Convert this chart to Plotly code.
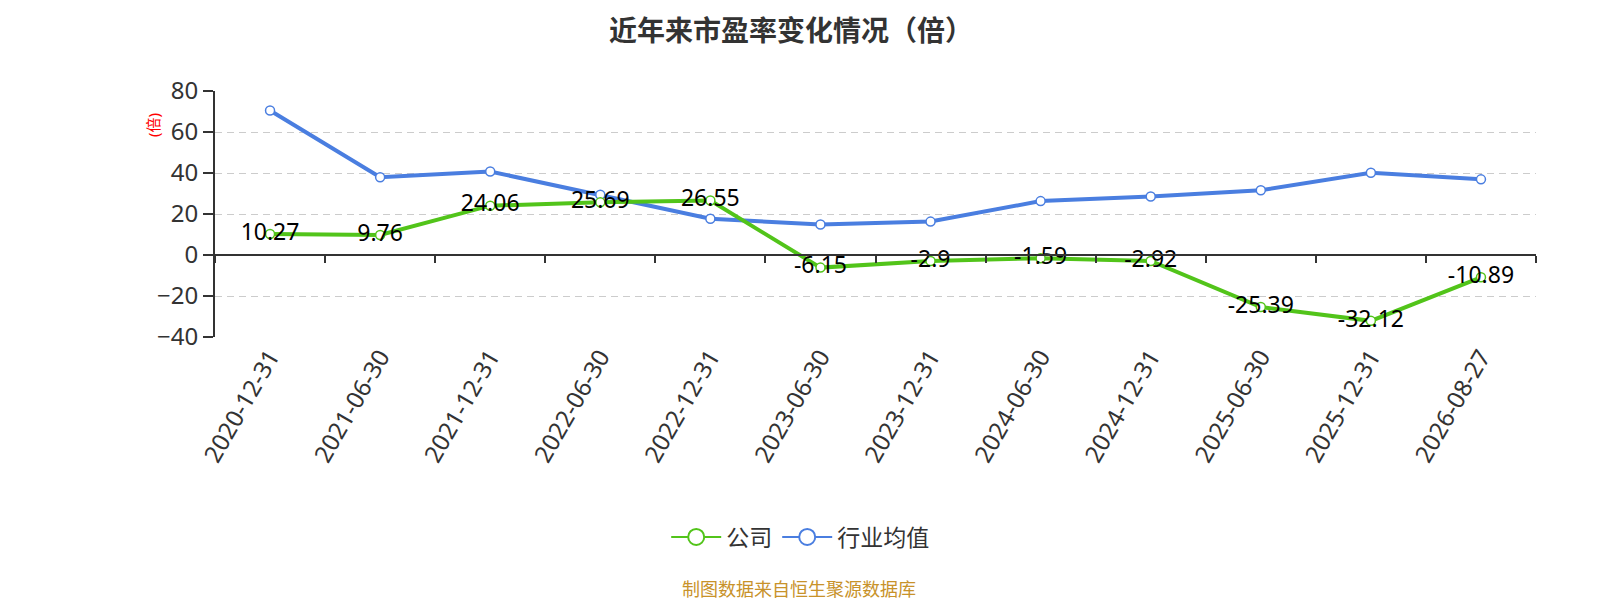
import plotly.graph_objects as go

# 报告期
dates = [
    "2020-12-31", "2021-06-30", "2021-12-31", "2022-06-30",
    "2022-12-31", "2023-06-30", "2023-12-31", "2024-06-30",
    "2024-12-31", "2025-06-30", "2025-12-31", "2026-08-27",
]
# 公司市盈率
company_pe = [10.27, 9.76, 24.06, 25.69, 26.55, -6.15, -2.9, -1.59, -2.92, -25.39, -32.12, -10.89]
# 行业均值（图上估读）
industry_pe = [70.5, 37.9, 40.7, 29.4, 17.7, 14.9, 16.3, 26.3, 28.5, 31.6, 40.1, 36.9]
y_ticks = [-40, -20, 0, 20, 40, 60, 80]

GREEN = "#52c41a"
BLUE = "#4a7ee0"
FONT = "Noto Sans, Noto Sans CJK SC"
cat_range = [-0.5, len(dates) - 0.5]

# the page body has an 8px default margin, so the figure is 8px smaller
W, H = 1592, 592

fig = go.Figure()

# 行业均值 on the main x axis (drawn first, underneath)
fig.add_trace(go.Scatter(
    x=dates, y=industry_pe, name="行业均值", mode="lines+markers",
    line=dict(color=BLUE, width=4),
    marker=dict(symbol="circle", size=9, color="white", line=dict(color=BLUE, width=1.5)),
    showlegend=False, xaxis="x", yaxis="y",
))

# 公司 on the overlay axis so its labels sit on top
fig.add_trace(go.Scatter(
    x=dates, y=company_pe, name="公司", mode="lines+markers+text",
    line=dict(color=GREEN, width=4),
    marker=dict(symbol="circle", size=9, color="white", line=dict(color=GREEN, width=1.5)),
    text=[f"{v:g}" for v in company_pe], textposition="middle center",
    textfont=dict(family=FONT, size=23, color="#000"),
    showlegend=False, xaxis="x2", yaxis="y",
))

# legend-only entries (thin line, big hollow circle)
for name, color in [("公司", GREEN), ("行业均值", BLUE)]:
    fig.add_trace(go.Scatter(
        x=[None], y=[None], name=name, mode="lines+markers",
        line=dict(color=color, width=2),
        marker=dict(symbol="circle", size=16, color="white", line=dict(color=color, width=2)),
        xaxis="x", yaxis="y", hoverinfo="skip",
    ))

fig.update_layout(
    width=W, height=H,
    margin=dict(l=207, r=64, t=83, b=263),
    paper_bgcolor="white", plot_bgcolor="white",
    font=dict(family=FONT, color="#333"),
    title=dict(text="<b>近年来市盈率变化情况（倍）</b>", x=0.4918, xanchor="center",
               y=0.96, yanchor="middle",
               font=dict(family="Noto Sans CJK SC", size=28, color="#333")),
    showlegend=True,
    legend=dict(orientation="h", x=0.443, xanchor="center", y=-0.813, yanchor="middle",
                font=dict(size=23, color="#333"), itemwidth=50, itemsizing="trace",
                tracegroupgap=0),
    xaxis=dict(
        type="category", categoryorder="array", categoryarray=dates, range=cat_range,
        showline=False, showgrid=False, ticks="", tickangle=-60,
        tickfont=dict(size=24, color="#333"), zeroline=False,
    ),
    xaxis2=dict(
        type="category", categoryorder="array", categoryarray=dates, range=cat_range,
        overlaying="x", anchor="free", position=40 / 120, side="bottom",
        showline=True, linecolor="#333", linewidth=2,
        ticks="outside", tickson="boundaries", ticklen=7, tickcolor="#333", tickwidth=1.5,
        showticklabels=False, showgrid=False, zeroline=False,
    ),
    yaxis=dict(
        range=[-40, 80], tickvals=y_ticks, showline=True, linecolor="#333", linewidth=2,
        ticks="outside", ticklen=10, tickcolor="#333", tickwidth=1.5,
        tickfont=dict(size=24, color="#333"),
        showgrid=True, gridcolor="#cccccc", gridwidth=1, griddash="7px,5px",
        zeroline=False,
    ),
    annotations=[
        dict(text="(倍)", xref="paper", yref="paper", x=-0.0469, y=0.862,
             xanchor="center", yanchor="middle", textangle=-90, showarrow=False,
             font=dict(size=15, color="red")),
        dict(text="制图数据来自恒生聚源数据库", xref="paper", yref="paper", x=0.4422, y=-1.02,
             xanchor="center", yanchor="middle", showarrow=False,
             font=dict(family="Noto Sans CJK SC", size=18, color="#c8922a")),
    ],
)

fig.write_html("out.html")
